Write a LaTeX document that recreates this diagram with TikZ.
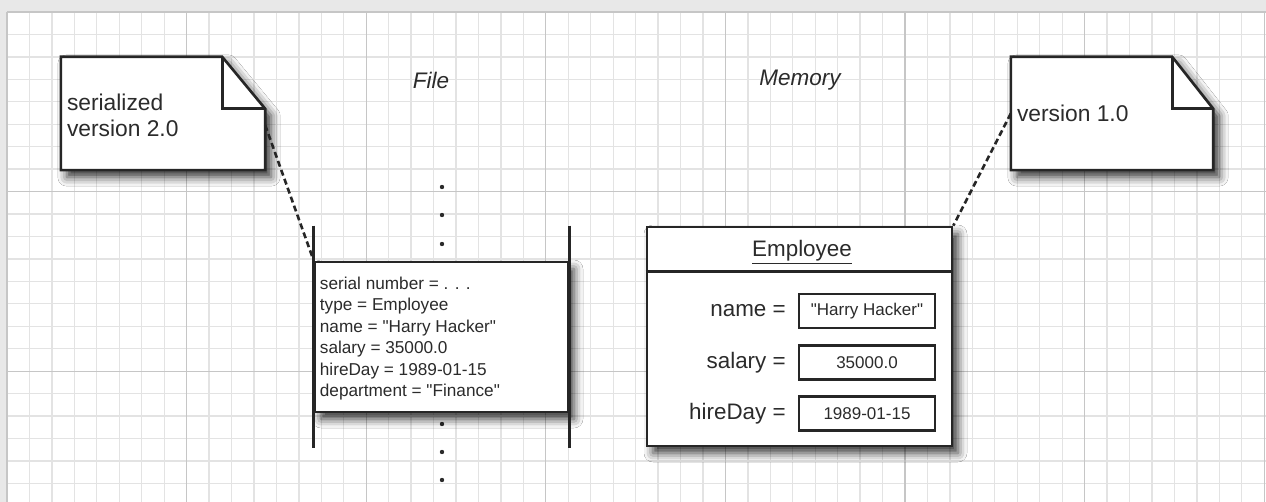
\documentclass[tikz,border=0pt]{standalone}
\usepackage{fontspec}
\setmainfont{Liberation Sans}[Ligatures=TeXOff]
\usetikzlibrary{shadows.blur}
\definecolor{ink}{HTML}{2B2B2B}
\definecolor{minorgrid}{HTML}{E3E3E3}
\definecolor{majorgrid}{HTML}{C6C6C6}
\begin{document}
\begin{tikzpicture}[x=1pt,y=-1pt,
  every node/.style={text=ink, inner sep=0pt},
  shade box/.style={blur shadow={shadow xshift=6pt, shadow yshift=-7pt, shadow blur radius=9pt, shadow opacity=80}},
  box/.style={draw=black!85, line width=2.6pt, fill=white, shade box},
  line/.style={draw=black!85, line width=2.6pt},
  valbox/.style={draw=black!85, line width=2.2pt, fill=white, minimum width=136pt, minimum height=34pt, font=\fontsize{17}{20}\selectfont},
  label/.style={font=\fontsize{22.4}{26}\selectfont, anchor=east},
  notetext/.style={font=\fontsize{22.8}{26}\selectfont, align=left, anchor=west},
  title/.style={font=\fontsize{22.5}{26}\selectfont\itshape},
  link/.style={draw=black!85, line width=2.6pt, dash pattern=on 6pt off 3.5pt}]
\useasboundingbox (0,0) rectangle (1266,502);
\fill[black!9] (0,0) rectangle (1266,502);
\fill[white] (7,12) rectangle (1266,502);
\foreach \i in {0,...,56}
  \draw[minorgrid, line width=1.3pt] ({7+22.45*\i},12) -- ({7+22.45*\i},502);
\foreach \k in {0,...,21}
  \draw[minorgrid, line width=1.3pt] (7,{12+22.45*\k}) -- (1266,{12+22.45*\k});
\foreach \i in {0,...,7}
  \draw[majorgrid, line width=1.3pt] ({7+179.6*\i},12) -- ({7+179.6*\i},502);
\foreach \k in {0,1,2}
  \draw[majorgrid, line width=1.3pt] (7,{12+179.6*\k}) -- (1266,{12+179.6*\k});

\node[title] (file) at (431,80) {File};
\node[title] (mem) at (800,80) {Memory};

\node[minimum width=204pt, minimum height=113pt] (ser) at (163,113.5) {};
\filldraw[box] (ser.north west) -- ([xshift=-43pt]ser.north east) -- ([yshift=-52pt]ser.north east)
  -- (ser.south east) -- (ser.south west) -- cycle;
\draw[line] ([xshift=-43pt]ser.north east) |- ([yshift=-52pt]ser.north east);
\node[notetext] (sertxt) at ([xshift=6pt,yshift=-1.5pt]ser.west) {serialized\\version 2.0};

\node[minimum width=202pt, minimum height=113pt] (ver) at (1112,113.5) {};
\filldraw[box] (ver.north west) -- ([xshift=-41pt]ver.north east) -- ([yshift=-52pt]ver.north east)
  -- (ver.south east) -- (ver.south west) -- cycle;
\draw[line] ([xshift=-41pt]ver.north east) |- ([yshift=-52pt]ver.north east);
\node[notetext] (vertxt) at ([xshift=6pt]ver.west) {version 1.0};

\foreach \y in {187,215,244,424,452,480}
  \fill[ink] (442,\y) circle (2.2pt);
\node[box, minimum width=253pt, minimum height=150pt] (rec) at (441.5,337) {};
\draw[line] ([yshift=35pt]rec.north west) -- ([yshift=-35pt]rec.south west);
\draw[line] ([yshift=35pt]rec.north east) -- ([yshift=-35pt]rec.south east);
\node[anchor=west, align=left, font=\fontsize{17.2}{21.5}\selectfont] (rectxt) at ([xshift=6pt,yshift=-1.5pt]rec.west)
  {serial number = . . .\\type = Employee\\name = "Harry Hacker"\\salary = 35000.0\\hireDay = 1989-01-15\\department = "Finance"};

\node[box, minimum width=305pt, minimum height=219pt] (emp) at (799.5,336.5) {};
\draw[line] ([yshift=-46pt]emp.north west) -- ([yshift=-46pt]emp.north east);
\node[font=\fontsize{22.4}{26}\selectfont] (cls) at (802,252) {\underline{Employee}};
\node[valbox] (vname) at (867,311) {"Harry Hacker"};
\node[valbox] (vsal) at (867,362.5) {35000.0};
\node[valbox] (vday) at (867,413.5) {1989-01-15};
\node[label] (lname) at ([xshift=-12pt]vname.west) {name =};
\node[label] (lsal) at ([xshift=-12pt]vsal.west) {salary =};
\node[label] (lday) at ([xshift=-12pt]vday.west) {hireDay =};

\draw[link] ([yshift=45pt]ser.south east) -- (rec.north west);
\draw[link] (ver.west) -- (emp.north east);
\end{tikzpicture}
\end{document}
